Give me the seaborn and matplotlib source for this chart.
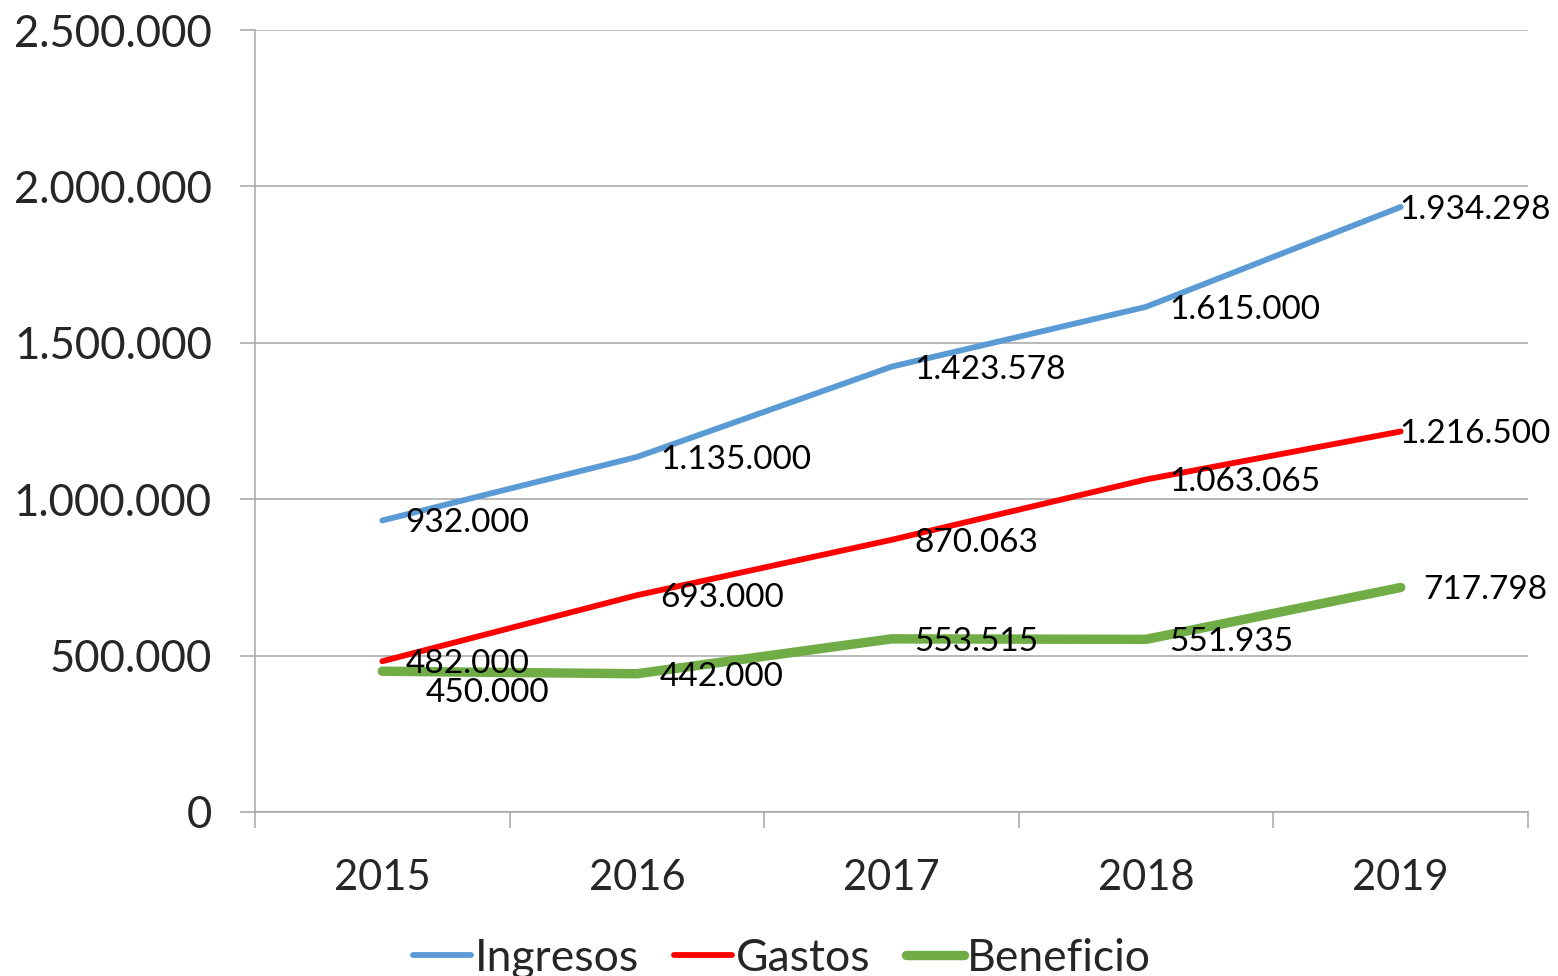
import pandas as pd
import matplotlib.pyplot as plt
import seaborn as sns
from matplotlib.ticker import FuncFormatter, FixedLocator
from matplotlib.lines import Line2D

# Chart data
years = ["2015", "2016", "2017", "2018", "2019"]
ingresos = [932000, 1135000, 1423578, 1615000, 1934298]
gastos = [482000, 693000, 870063, 1063065, 1216500]
beneficio = [450000, 442000, 553515, 551935, 717798]

series_names = ["Ingresos", "Gastos", "Beneficio"]
series_colors = {"Ingresos": "#5B9BD5", "Gastos": "#FF0000", "Beneficio": "#70AD47"}
series_widths = {"Ingresos": 4.2, "Gastos": 4.2, "Beneficio": 6.8}

# Label offsets in pixels (dx, dy), default is right of the point
default_offset = (23, -3)
label_offsets = {
    ("Ingresos", 4): (-1, -3),
    ("Gastos", 4): (-1, -3),
    ("Beneficio", 0): (43, -22),
}


def fmt_thousands(v):
    return f"{v:,.0f}".replace(",", ".")


# Build long-form table for seaborn
values = {"Ingresos": ingresos, "Gastos": gastos, "Beneficio": beneficio}
rows = []
for name in series_names:
    for i, v in enumerate(values[name]):
        rows.append({"pos": i, "year": years[i], "serie": name, "value": v})
df = pd.DataFrame(rows)

sns.set_theme(style="white")
plt.rcParams["font.family"] = ["Lato", "DejaVu Sans"]

fig = plt.figure(figsize=(15.58, 9.76), dpi=100)
ax = fig.add_axes([255 / 1558, 164 / 976, 1273 / 1558, 782 / 976])

grid_color = "#A6A6A6"

for name in series_names:
    sub = df[df["serie"] == name]
    sns.lineplot(data=sub, x="pos", y="value", ax=ax, color=series_colors[name],
                 linewidth=series_widths[name], legend=False,
                 solid_capstyle="round", solid_joinstyle="round", zorder=2)

# Data labels
for name in series_names:
    sub = df[df["serie"] == name]
    for _, r in sub.iterrows():
        dx, dy = label_offsets.get((name, r["pos"]), default_offset)
        ax.annotate(fmt_thousands(r["value"]), (r["pos"], r["value"]),
                    xytext=(dx, dy), textcoords="offset pixels",
                    ha="left", va="center", fontsize=24, color="black", zorder=5)

# Axes styling
ax.set_xlim(-0.5, 4.5)
ax.set_ylim(0, 2500000)
ax.set_yticks(range(0, 2500001, 500000))
ax.yaxis.set_major_formatter(FuncFormatter(lambda v, p: fmt_thousands(v)))
ax.grid(axis="y", color=grid_color, linewidth=1.1)
ax.set_axisbelow(True)

ax.set_xticks(range(len(years)))
ax.set_xticklabels(years)
ax.xaxis.set_minor_locator(FixedLocator([i - 0.5 for i in range(len(years) + 1)]))
ax.tick_params(axis="x", which="major", length=0, pad=34, labelsize=30)
ax.tick_params(axis="x", which="minor", bottom=True, length=11.5, width=1.1,
               color=grid_color, direction="out")
ax.tick_params(axis="y", which="major", left=True, length=11, width=1.1, color=grid_color,
               direction="out", pad=20, labelsize=31.5)

for side in ["top", "right"]:
    ax.spines[side].set_visible(False)
for side in ["left", "bottom"]:
    ax.spines[side].set_color(grid_color)
    ax.spines[side].set_linewidth(1.1)

ax.set_xlabel("")
ax.set_ylabel("")

# Legend
handles = [Line2D([0], [0], color=series_colors[n], linewidth=series_widths[n],
                  solid_capstyle="round") for n in series_names]
fig.legend(handles, series_names, loc="center", bbox_to_anchor=(0.502, 0.018),
           ncol=3, frameon=False, fontsize=32, handlelength=1.3,
           handletextpad=0.08, columnspacing=0.8, borderaxespad=0)

plt.savefig("out.png", dpi=100)
plt.close()
